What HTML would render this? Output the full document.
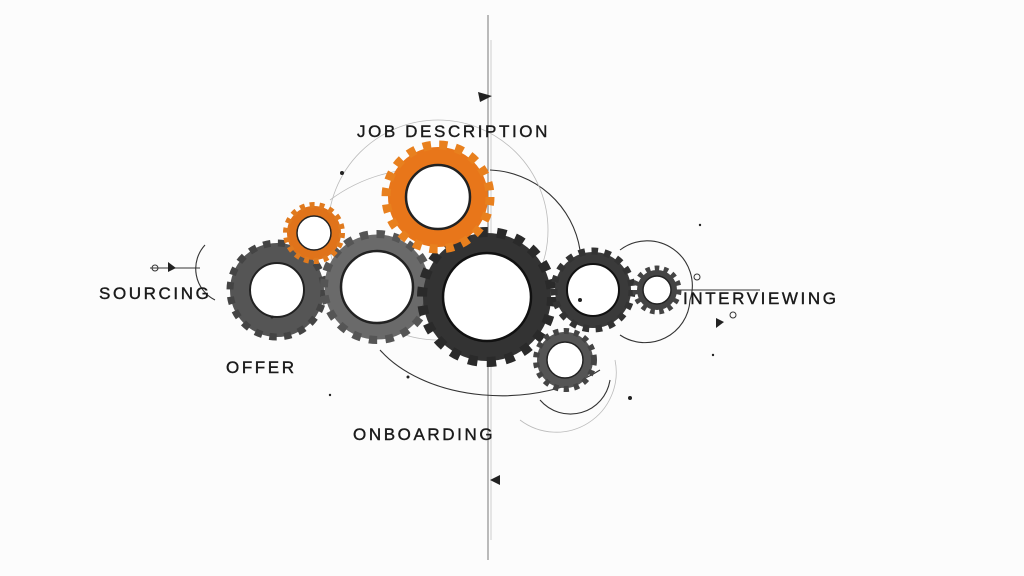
<!DOCTYPE html>
<html><head><style>
body{margin:0;background:#fcfcfc;}
svg{display:block}
text{font-family:"Liberation Sans",sans-serif;font-size:17px;fill:#1a1a1a;letter-spacing:2.6px;stroke:#1a1a1a;stroke-width:0.4}
</style></head><body>
<svg width="1024" height="576" viewBox="0 0 1024 576" xmlns="http://www.w3.org/2000/svg">
<rect width="1024" height="576" fill="#fcfcfc"/>
<line x1="488" y1="15" x2="488" y2="560" stroke="#777" stroke-width="1"/>
<line x1="491" y1="40" x2="491" y2="540" stroke="#bbb" stroke-width="0.7"/>
<path d="M478 92 L492 96 L480 102 Z" fill="#222"/>
<path d="M500 475 L490 480 L500 485 Z" fill="#222"/>
<g fill="none" stroke="#333" stroke-width="1.1">
<path d="M490 170 A95 95 0 0 1 580 250"/>
<path d="M205 245 A35 35 0 0 0 215 300"/>
<path d="M380 350 A140 90 0 0 0 600 370"/>
<path d="M620 250 A45 45 0 0 1 690 300 A45 45 0 0 1 620 335"/>
<path d="M540 400 A40 40 0 0 0 610 380"/>
</g>
<g fill="none" stroke="#bbb" stroke-width="0.8">
<circle cx="438" cy="230" r="110"/>
<path d="M330 200 A160 160 0 0 1 470 175"/>
<path d="M520 420 A60 60 0 0 0 615 360"/>
</g>
<line x1="150" y1="268" x2="200" y2="268" stroke="#333"/>
<circle cx="155" cy="268" r="3" fill="none" stroke="#333"/>
<path d="M168 262 L176 268 L168 272Z" fill="#222"/>
<line x1="670" y1="290" x2="760" y2="290" stroke="#333"/>
<circle cx="697" cy="277" r="3" fill="none" stroke="#333"/>
<circle cx="733" cy="315" r="3" fill="none" stroke="#333"/>
<path d="M716 318 L724 322 L716 328Z" fill="#222"/>
<g>
<circle cx="277" cy="290" r="37" fill="none" stroke="#555" stroke-width="20"/>
<circle cx="277" cy="290" r="47" fill="none" stroke="#444" stroke-width="7" stroke-dasharray="7.4 7.4"/>
<circle cx="277" cy="290" r="27" fill="#fff" stroke="#222" stroke-width="2"/>
</g>
<g>
<circle cx="377" cy="287" r="44" fill="none" stroke="#6a6a6a" stroke-width="17"/>
<circle cx="377" cy="287" r="53" fill="none" stroke="#555" stroke-width="8" stroke-dasharray="8.3 8.3"/>
<circle cx="377" cy="287" r="36" fill="#fff" stroke="#222" stroke-width="2.5"/>
</g>
<g>
<circle cx="487" cy="297" r="54" fill="none" stroke="#333" stroke-width="20"/>
<circle cx="487" cy="297" r="65" fill="none" stroke="#2a2a2a" stroke-width="10" stroke-dasharray="9.3 9.3"/>
<circle cx="487" cy="297" r="44" fill="#fff" stroke="#111" stroke-width="2.5"/>
</g>
<g>
<circle cx="593" cy="290" r="32" fill="none" stroke="#3a3a3a" stroke-width="12"/>
<circle cx="593" cy="290" r="39" fill="none" stroke="#333" stroke-width="7" stroke-dasharray="6.5 6.5"/>
<circle cx="593" cy="290" r="26" fill="#fff" stroke="#111" stroke-width="2"/>
</g>
<g>
<circle cx="657" cy="290" r="17" fill="none" stroke="#444" stroke-width="6"/>
<circle cx="657" cy="290" r="22" fill="none" stroke="#444" stroke-width="5" stroke-dasharray="4.6 4.6"/>
<circle cx="657" cy="290" r="14" fill="#fff" stroke="#222" stroke-width="1.5"/>
</g>
<g>
<circle cx="565" cy="360" r="23" fill="none" stroke="#555" stroke-width="10"/>
<circle cx="565" cy="360" r="29" fill="none" stroke="#444" stroke-width="6" stroke-dasharray="5.2 5.2"/>
<circle cx="565" cy="360" r="18" fill="#fff" stroke="#222" stroke-width="1.5"/>
</g>
<g>
<circle cx="314" cy="233" r="22" fill="none" stroke="#e0731a" stroke-width="10"/>
<circle cx="314" cy="233" r="28" fill="none" stroke="#e07a1e" stroke-width="6" stroke-dasharray="4.9 4.9"/>
<circle cx="314" cy="233" r="17" fill="#fff" stroke="#222" stroke-width="1.5"/>
</g>
<g>
<circle cx="438" cy="197" r="41" fill="none" stroke="#e8761a" stroke-width="18"/>
<circle cx="438" cy="197" r="52" fill="none" stroke="#e8801e" stroke-width="9" stroke-dasharray="8.2 8.2"/>
<circle cx="438" cy="197" r="32" fill="#fff" stroke="#222" stroke-width="2.5"/>
</g>
<g fill="#222">
<circle cx="342" cy="173" r="2"/><circle cx="580" cy="300" r="2"/><circle cx="630" cy="398" r="2"/>
<circle cx="408" cy="377" r="1.5"/><circle cx="272" cy="317" r="1.5"/><circle cx="700" cy="225" r="1.2"/>
<circle cx="713" cy="355" r="1.2"/><circle cx="330" cy="395" r="1.2"/>
</g>
<text x="357" y="137">JOB DESCRIPTION</text>
<text x="99" y="299">SOURCING</text>
<text x="226" y="373">OFFER</text>
<text x="353" y="440">ONBOARDING</text>
<text x="683" y="304">INTERVIEWING</text>
</svg>
</body></html>
